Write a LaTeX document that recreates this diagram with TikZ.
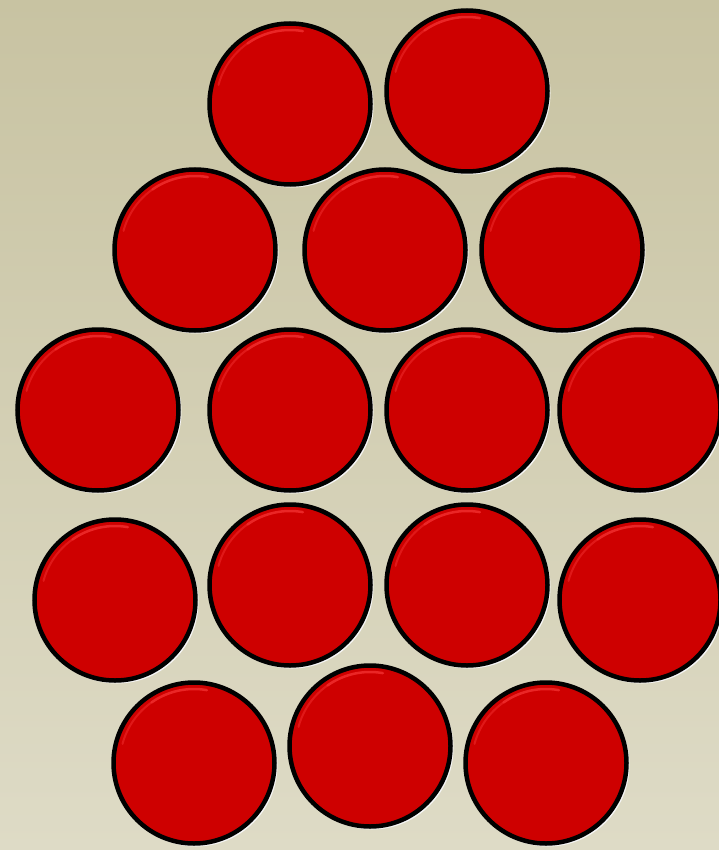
\documentclass[tikz,border=0pt]{standalone}
\usetikzlibrary{shadings}
\definecolor{bgtop}{RGB}{200,195,162}
\definecolor{bgbot}{RGB}{222,219,198}
\definecolor{discred}{RGB}{206,0,0}
\definecolor{discrim}{RGB}{240,45,45}
\tikzset{
  disc/.style={circle, minimum size=161pt, inner sep=0pt, fill=discred, draw=black, line width=4.5pt},
  rim/.style={circle, minimum size=163pt, inner sep=0pt, fill=white!92!gray},
}
\begin{document}
\begin{tikzpicture}[x=1pt,y=-1pt]
\useasboundingbox (0,0) rectangle (719,850);
\shade[top color=bgtop, bottom color=bgbot] (0,0) rectangle (719,850);
\foreach \n/\x/\y in {a1/290/104, a2/467/91,
  b1/195/250, b2/385/250, b3/562/250,
  c1/98/410, c2/290/410, c3/467/410, c4/640/410,
  d1/115/600, d2/290/585, d3/467/585, d4/640/600,
  e1/194/763, e2/370/746, e3/546/763} {
  \node[rim] (\n r) at (\x+2,\y+2) {};
  \node[disc] (\n) at (\x,\y) {};
  \draw[discrim, line width=2.5pt, line cap=round, opacity=0.85]
    (\n.center) ++(-125:74) arc[start angle=-125, end angle=-80, radius=74];
  \draw[discrim, line width=2pt, line cap=round, opacity=0.55]
    (\n.center) ++(-165:74) arc[start angle=-165, end angle=-125, radius=74];
}
\end{tikzpicture}
\end{document}
